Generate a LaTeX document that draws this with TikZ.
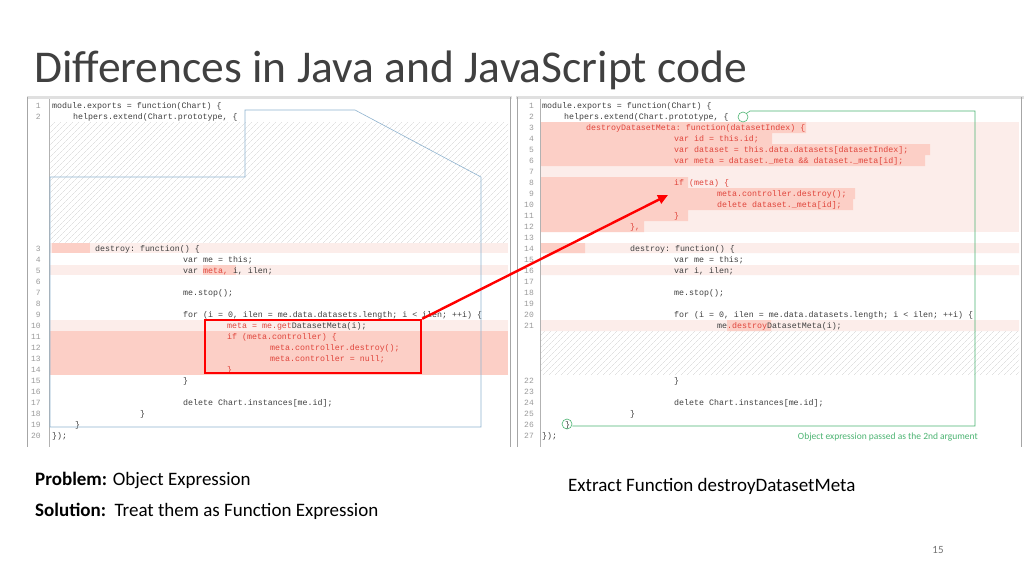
\documentclass[tikz,border=0pt]{standalone}
\usepackage{fontspec}
\setmainfont{Carlito}
\setmonofont{Liberation Mono}
\usetikzlibrary{patterns,patterns.meta,arrows.meta}
\definecolor{cgray}{HTML}{404040}
\definecolor{lnum}{HTML}{9A9A9A}
\definecolor{rtext}{HTML}{E0453C}
\definecolor{pinkL}{HTML}{FCEDEA}
\definecolor{pinkS}{HTML}{FCCFC6}
\definecolor{bluef}{HTML}{8FB3CF}
\definecolor{greenf}{HTML}{4CB472}
\tikzset{
 code/.style={anchor=base west,inner sep=0,font=\ttfamily\fontsize{8.3}{9}\selectfont,text=cgray},
 redcode/.style={code,text=rtext},
 num/.style={anchor=base east,inner sep=0,font=\ttfamily\fontsize{8}{9}\selectfont,text=lnum},
 hatch/.style={pattern={Lines[angle=45,distance=4pt,line width=0.3pt]},pattern color=black!18},
}
\begin{document}
\begin{tikzpicture}[x=1pt,y=-1pt]
\useasboundingbox (0,0) rectangle (1024,576);
\fill[white] (0,0) rectangle (1024,576);
% title
\node[anchor=base west,inner sep=0,font=\fontsize{45.5}{47}\selectfont,text=cgray] (title) at (34,82) {Differences in Java and JavaScript code};
% panels
\fill[black!12] (27,96) rectangle (512,99);
\fill[black!12] (516,96) rectangle (1024,99);
\draw[black!35] (27,97) -- (27,447) (510,97) -- (510,447);
\draw[black!35] (517,97) -- (517,447) (1021,97) -- (1021,447);
\draw[black!30] (49,99) -- (49,447) (540,99) -- (540,447);
% hatch areas
\fill[hatch] (50,122) rectangle (508,242);
\fill[hatch] (541,331) rectangle (1019,374);
% left pink rows
\fill[pinkL] (50,243) rectangle (508,253);
\fill[pinkS] (52,243) rectangle (90,253);
\fill[pinkL] (50,265) rectangle (508,275);
\fill[pinkS] (203,265) rectangle (236,275);
\fill[pinkL] (50,320) rectangle (508,331);
\fill[pinkS] (50,331) rectangle (508,375);
% right pink rows
\fill[pinkL] (541,122) rectangle (1019,232);
\fill[pinkS] (541,122) rectangle (806,133) (541,133) rectangle (772,144) (541,144) rectangle (930,155) (541,155) rectangle (925,166) (541,177) rectangle (688,188) (541,188) rectangle (855,199) (541,199) rectangle (853,210) (541,210) rectangle (688,221) (541,221) rectangle (644,232);
\fill[pinkL] (541,243) rectangle (1019,253) (541,265) rectangle (1019,275) (541,320) rectangle (1019,331);
\fill[pinkS] (541,243) rectangle (585,253) (727,320) rectangle (771,331);
% left line numbers
\foreach \n in {1,2} \node[num] at (41,{105+11*(\n-1)+3}) {\n};
\foreach \n in {3,...,20} \node[num] at (41,{105+11*(\n+10)+3}) {\n};
\node[code] (l1) at (52,108) {module.exports = function(Chart) \{};
\node[code] (l2) at (73,119) {helpers.extend(Chart.prototype, \{};
\node[code] (l3) at (95,251) {destroy: function() \{};
\node[code] (l4) at (183,262) {var me = this;};
\node[code] (l5) at (183,273) {var \textcolor{rtext}{meta,} i, ilen;};
\node[code] (l7) at (183,295) {me.stop();};
\node[code] (l9) at (183,317) {for (i = 0, ilen = me.data.datasets.length; i < ilen; ++i) \{};
\node[redcode] (l10) at (227,328) {meta = me.get\textcolor{cgray}{DatasetMeta(i);}};
\node[redcode] (l11) at (227,339) {if (meta.controller) \{};
\node[redcode] (l12) at (270,350) {meta.controller.destroy();};
\node[redcode] (l13) at (270,361) {meta.controller = null;};
\node[redcode] (l14) at (227,372) {\}};
\node[code] (l15) at (183,383) {\}};
\node[code] (l17) at (183,405) {delete Chart.instances[me.id];};
\node[code] (l18) at (140,416) {\}};
\node[code] (l19) at (75,427) {\}};
\node[code] (l20) at (52,438) {\});};
% blue polygon
\draw[bluef,line width=0.6pt] (50,177) -- (245,177) -- (245,110) -- (355,110) -- (481,177) -- (481,427) -- (50,427) -- cycle;
% right code
\foreach \n in {1,...,21} \node[num] at (534,{105+11*(\n-1)+3}) {\n};
\foreach \n in {22,...,27} \node[num] at (534,{105+11*(\n+3)+3}) {\n};
\node[code] (r1) at (542,108) {module.exports = function(Chart) \{};
\node[code] (r2) at (564,119) {helpers.extend(Chart.prototype, \{};
\node[redcode] (r3) at (586,130) {destroyDatasetMeta: function(datasetIndex) \{};
\node[redcode] (r4) at (674,141) {var id = this.id;};
\node[redcode] (r5) at (674,152) {var dataset = this.data.datasets[datasetIndex];};
\node[redcode] (r6) at (674,163) {var meta = dataset.\_meta \&\& dataset.\_meta[id];};
\node[redcode] (r8) at (674,185) {if (meta) \{};
\node[redcode] (r9) at (717,196) {meta.controller.destroy();};
\node[redcode] (r10) at (717,207) {delete dataset.\_meta[id];};
\node[redcode] (r11) at (674,218) {\}};
\node[redcode] (r12) at (630,229) {\},};
\node[code] (r14) at (630,251) {destroy: function() \{};
\node[code] (r15) at (674,262) {var me = this;};
\node[code] (r16) at (674,273) {var i, ilen;};
\node[code] (r18) at (674,295) {me.stop();};
\node[code] (r20) at (674,317) {for (i = 0, ilen = me.data.datasets.length; i < ilen; ++i) \{};
\node[code] (r21) at (717,328) {me\textcolor{rtext}{.destroy}DatasetMeta(i);};
\node[code] (r22) at (674,383) {\}};
\node[code] (r24) at (674,405) {delete Chart.instances[me.id];};
\node[code] (r25) at (630,416) {\}};
\node[code] (r26) at (565,427) {\}};
\node[code] (r27) at (542,438) {\});};
% green annotation
\node[circle,draw=greenf,line width=0.6pt,minimum size=10pt,inner sep=0] (gc1) at (743,117) {};
\node[circle,draw=greenf,line width=0.6pt,minimum size=10pt,inner sep=0] (gc2) at (567,424) {};
\draw[greenf,line width=0.6pt] (gc1.north east) -- (750,111) -- (975,111) -- (975,426) -- (gc2.east |- 0,426);
\node[anchor=base east,inner sep=0,font=\fontsize{9.5}{10}\selectfont,text=greenf] (gtxt) at (978,439) {Object expression passed as the 2nd argument};
% red box and arrow
\node[draw=red,line width=2.4pt,minimum width=216pt,minimum height=53pt,inner sep=0] (rbox) at (313,346.5) {};
\coordinate (atip) at (668,195);
\draw[red,line width=2.4pt,-{Triangle[length=10pt,width=9pt]}] (rbox.north east) -- (atip);
% bottom texts
\node[anchor=base west,inner sep=0,font=\fontsize{19}{20}\selectfont] (prob) at (35,485) {\textbf{Problem:} Object Expression};
\node[anchor=base west,inner sep=0,font=\fontsize{19}{20}\selectfont] (sol) at (35,516) {\textbf{Solution:}\ \ Treat them as Function Expression};
\node[anchor=base west,inner sep=0,font=\fontsize{19}{20}\selectfont] (ext) at (568,491) {Extract Function destroyDatasetMeta};
\node[anchor=base,inner sep=0,font=\fontsize{11}{12}\selectfont,text=black!55] (pg) at (938,553) {15};
\end{tikzpicture}
\end{document}
